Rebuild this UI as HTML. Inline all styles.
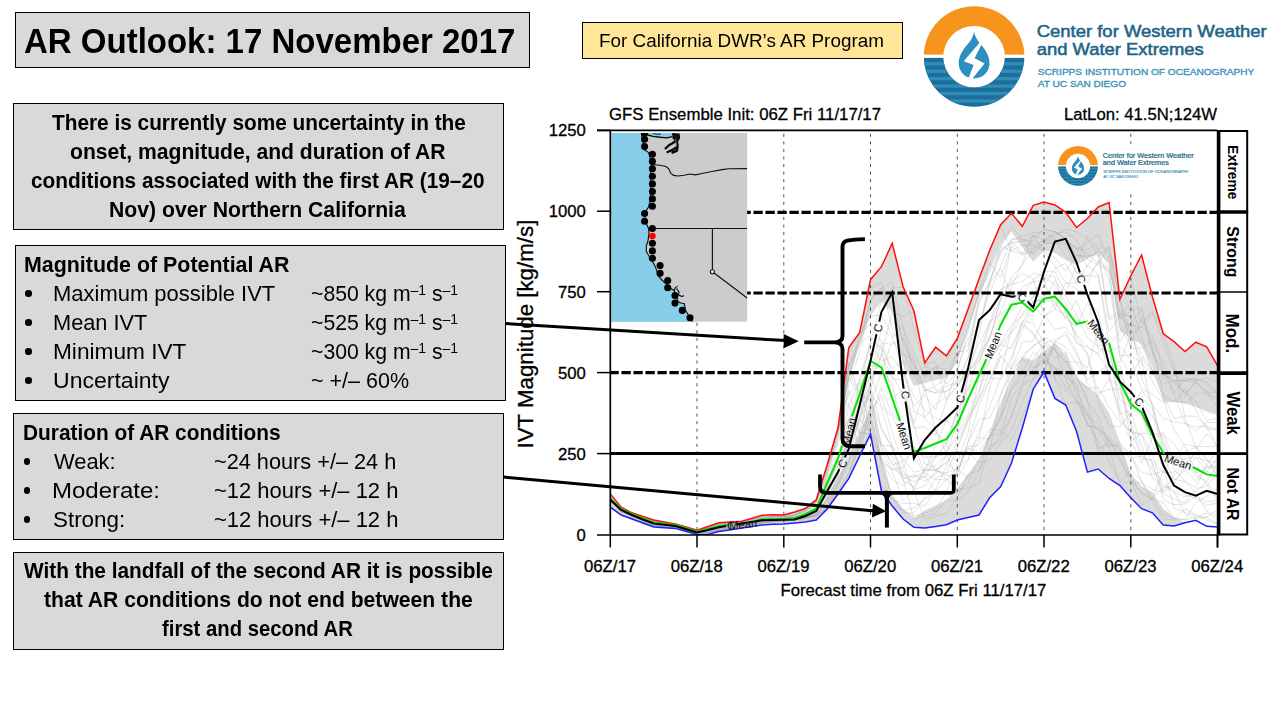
<!DOCTYPE html>
<html lang="en"><head><meta charset="utf-8"><title>AR Outlook: 17 November 2017</title>
<style>
html,body{margin:0;padding:0;background:#fff}
body{width:1280px;height:720px;position:relative;overflow:hidden;font-family:"Liberation Sans", sans-serif;color:#000}
.box{position:absolute;box-sizing:border-box;background:#d9d9d9;border:1px solid #000}
.ybox{position:absolute;box-sizing:border-box;background:#ffe699;border:1px solid #000}
.t{position:absolute;margin:0;padding:0;white-space:nowrap;display:inline-block;line-height:1;transform-origin:0 50%}
.t sup{font-size:66%;vertical-align:baseline;position:relative;top:-0.40em;line-height:0}
.b{position:absolute;width:6.6px;height:6.6px;border-radius:50%;background:#000}
</style></head><body>
<div class="box" style="left:15px;top:12px;width:515px;height:56px"><h1 class="t" style="left:8.20px;top:11.00px;font-size:34.49px;font-weight:700;transform:scaleX(0.9568)">AR Outlook: 17 November 2017</h1></div>
<div class="box" style="left:13px;top:103px;width:491px;height:127px"><span class="t" style="left:38.00px;top:7.55px;font-size:22.03px;font-weight:700;transform:scaleX(0.9450)">There is currently some uncertainty in the</span><span class="t" style="left:56.30px;top:36.55px;font-size:22.03px;font-weight:700;transform:scaleX(0.9587)">onset, magnitude, and duration of AR</span><span class="t" style="left:17.30px;top:65.55px;font-size:22.03px;font-weight:700;transform:scaleX(0.9449)">conditions associated with the first AR (19–20</span><span class="t" style="left:95.20px;top:94.55px;font-size:22.03px;font-weight:700;transform:scaleX(0.9628)">Nov) over Northern California</span></div>
<div class="box" style="left:15px;top:245px;width:491px;height:156px"><h2 class="t" style="left:8.20px;top:7.55px;font-size:22.03px;font-weight:700;transform:scaleX(0.9720)">Magnitude of Potential AR</h2><span class="t" style="left:37.40px;top:36.55px;font-size:22.03px;font-weight:400;transform:scaleX(0.9983)">Maximum possible IVT</span><span class="t" style="left:37.40px;top:65.55px;font-size:22.03px;font-weight:400;transform:scaleX(0.9891)">Mean IVT</span><span class="t" style="left:37.40px;top:94.55px;font-size:22.03px;font-weight:400;transform:scaleX(1.0289)">Minimum IVT</span><span class="t" style="left:37.40px;top:123.55px;font-size:22.03px;font-weight:400;transform:scaleX(1.0462)">Uncertainty</span><span class="t" style="left:295.30px;top:36.55px;font-size:22.03px;font-weight:400;transform:scaleX(0.9626)">~850 kg m<sup>–1</sup> s<sup>–1</sup></span><span class="t" style="left:295.30px;top:65.55px;font-size:22.03px;font-weight:400;transform:scaleX(0.9626)">~525 kg m<sup>–1</sup> s<sup>–1</sup></span><span class="t" style="left:295.30px;top:94.55px;font-size:22.03px;font-weight:400;transform:scaleX(0.9626)">~300 kg m<sup>–1</sup> s<sup>–1</sup></span><span class="t" style="left:295.30px;top:123.55px;font-size:22.03px;font-weight:400;transform:scaleX(0.9768)">~ +/– 60%</span><span class="b" style="left:8.95px;top:44.00px"></span><span class="b" style="left:8.95px;top:73.00px"></span><span class="b" style="left:8.95px;top:102.00px"></span><span class="b" style="left:8.95px;top:131.00px"></span></div>
<div class="box" style="left:13px;top:413px;width:491px;height:127px"><h2 class="t" style="left:9.20px;top:7.55px;font-size:22.03px;font-weight:700;transform:scaleX(0.9470)">Duration of AR conditions</h2><span class="t" style="left:40.00px;top:36.55px;font-size:22.03px;font-weight:400;transform:scaleX(0.9935)">Weak:</span><span class="t" style="left:38.40px;top:65.55px;font-size:22.03px;font-weight:400;transform:scaleX(1.0895)">Moderate:</span><span class="t" style="left:39.20px;top:94.55px;font-size:22.03px;font-weight:400;transform:scaleX(1.0171)">Strong:</span><span class="t" style="left:200.30px;top:36.55px;font-size:22.03px;font-weight:400;transform:scaleX(0.9862)">~24 hours +/– 24 h</span><span class="t" style="left:200.30px;top:65.55px;font-size:22.03px;font-weight:400;transform:scaleX(0.9976)">~12 hours +/– 12 h</span><span class="t" style="left:200.30px;top:94.55px;font-size:22.03px;font-weight:400;transform:scaleX(0.9976)">~12 hours +/– 12 h</span><span class="b" style="left:9.70px;top:44.00px"></span><span class="b" style="left:9.70px;top:73.00px"></span><span class="b" style="left:9.70px;top:102.00px"></span></div>
<div class="box" style="left:13px;top:552px;width:491px;height:98px"><span class="t" style="left:10.00px;top:6.55px;font-size:22.03px;font-weight:700;transform:scaleX(0.9461)">With the landfall of the second AR it is possible</span><span class="t" style="left:30.10px;top:35.55px;font-size:22.03px;font-weight:700;transform:scaleX(0.9597)">that AR conditions do not end between the</span><span class="t" style="left:148.10px;top:64.55px;font-size:22.03px;font-weight:700;transform:scaleX(0.9216)">first and second AR</span></div>
<div class="ybox" style="left:582px;top:22px;width:321px;height:37px"><span class="t" style="left:16.40px;top:8.52px;font-size:18.41px;font-weight:400;transform:scaleX(1.0253)">For California DWR’s AR Program</span></div>
<svg id="chart" width="1280" height="720" viewBox="0 0 1280 720" style="position:absolute;left:0;top:0" font-family='"Liberation Sans", sans-serif'><defs><clipPath id="plotclip"><rect x="610.3" y="130.4" width="607.2" height="404.6"/></clipPath><mask id="lmg" maskUnits="userSpaceOnUse" x="600" y="120" width="640" height="430"><rect x="600" y="120" width="640" height="430" fill="#fff"/><rect x="-15.5" y="-5.5" width="31" height="11" fill="#000" transform="translate(849,431.5) rotate(-76)"/><rect x="-15.5" y="-5.5" width="31" height="11" fill="#000" transform="translate(904,436) rotate(72)"/><rect x="-15.5" y="-5.5" width="31" height="11" fill="#000" transform="translate(993,345) rotate(-68)"/><rect x="-15.5" y="-5.5" width="31" height="11" fill="#000" transform="translate(1098.5,332) rotate(52)"/><rect x="-15.5" y="-5.5" width="31" height="11" fill="#000" transform="translate(1178,462) rotate(18)"/><rect x="-14.5" y="-5.5" width="29" height="11" fill="#000" transform="translate(743,524.5) rotate(-6)"/></mask><mask id="lmb" maskUnits="userSpaceOnUse" x="600" y="120" width="640" height="430"><rect x="600" y="120" width="640" height="430" fill="#fff"/><rect x="-6.5" y="-5.5" width="13" height="11" fill="#000" transform="translate(842.5,463.5) rotate(-62)"/><rect x="-6.5" y="-5.5" width="13" height="11" fill="#000" transform="translate(878,328) rotate(-74)"/><rect x="-6.5" y="-5.5" width="13" height="11" fill="#000" transform="translate(905.5,395) rotate(82)"/><rect x="-6.5" y="-5.5" width="13" height="11" fill="#000" transform="translate(960.5,399) rotate(-76)"/><rect x="-6.5" y="-5.5" width="13" height="11" fill="#000" transform="translate(1022,297.5) rotate(18)"/><rect x="-6.5" y="-5.5" width="13" height="11" fill="#000" transform="translate(1081,279) rotate(70)"/><rect x="-6.5" y="-5.5" width="13" height="11" fill="#000" transform="translate(1139,402) rotate(42)"/><rect x="-5.1" y="-5.5" width="10.2" height="11" fill="#000" transform="translate(731.2,525.8) rotate(-6)"/></mask></defs><g clip-path="url(#plotclip)"><polygon points="610.3,494.0 621.1,507.2 632.0,512.8 642.8,516.5 653.7,520.0 664.5,522.0 675.4,524.0 686.2,527.0 697.0,530.2 707.9,526.5 718.7,522.8 729.6,522.0 740.4,521.6 751.3,518.5 762.1,515.2 772.9,514.7 783.8,515.0 794.6,512.0 805.5,508.3 816.3,499.7 827.2,465.0 838.0,428.0 848.8,347.5 859.7,332.5 870.5,279.7 881.4,266.7 892.2,243.3 903.1,286.7 913.9,310.8 924.7,363.0 935.6,347.2 946.4,355.8 957.3,338.3 968.1,309.0 979.0,279.0 989.8,250.0 1000.6,224.7 1011.5,213.3 1022.3,226.3 1033.2,205.3 1044.0,202.0 1054.9,205.0 1065.7,212.3 1076.5,227.5 1087.4,218.5 1098.2,207.0 1109.1,202.5 1119.9,299.2 1130.8,275.8 1141.6,255.0 1152.4,296.7 1163.3,333.8 1174.1,341.6 1185.0,351.6 1195.8,342.2 1206.7,346.9 1217.5,365.6 1217.5,526.9 1206.7,526.3 1195.8,520.3 1185.0,522.8 1174.1,526.0 1163.3,525.0 1152.4,512.8 1141.6,508.7 1130.8,497.8 1119.9,485.6 1109.1,478.5 1098.2,469.0 1087.4,472.1 1076.5,431.2 1065.7,405.0 1054.9,398.4 1044.0,372.0 1033.2,389.2 1022.3,428.0 1011.5,463.0 1000.6,486.7 989.8,497.5 979.0,515.0 968.1,517.5 957.3,520.0 946.4,524.8 935.6,526.5 924.7,528.0 913.9,527.3 903.1,519.0 892.2,506.0 881.4,490.8 870.5,434.2 859.7,456.0 848.8,478.4 838.0,494.0 827.2,509.0 816.3,520.0 805.5,522.0 794.6,523.0 783.8,524.0 772.9,524.3 762.1,525.0 751.3,526.6 740.4,528.3 729.6,530.0 718.7,531.6 707.9,534.4 697.0,534.4 686.2,531.5 675.4,528.4 664.5,527.7 653.7,526.9 642.8,523.0 632.0,519.0 621.1,515.2 610.3,507.2" fill="#dbdbdb"/><polygon points="610.3,497.2 621.1,507.5 632.0,512.5 642.8,517.0 653.7,521.0 664.5,522.3 675.4,523.5 686.2,526.8 697.0,530.0 707.9,527.5 718.7,524.8 729.6,523.0 740.4,521.3 751.3,519.5 762.1,517.8 772.9,517.4 783.8,517.5 794.6,516.5 805.5,512.5 816.3,503.0 827.2,476.0 838.0,436.0 848.8,380.0 859.7,344.0 870.5,316.0 881.4,301.6 892.2,312.0 903.1,364.0 913.9,386.0 924.7,383.0 935.6,380.0 946.4,377.4 957.3,362.0 968.1,329.0 979.0,296.7 989.8,268.0 1000.6,245.0 1011.5,231.7 1022.3,247.0 1033.2,261.7 1044.0,250.8 1054.9,253.0 1065.7,260.0 1076.5,265.0 1087.4,259.0 1098.2,253.0 1109.1,263.0 1119.9,330.0 1130.8,339.0 1141.6,344.0 1152.4,366.6 1163.3,401.2 1174.1,402.0 1185.0,403.5 1195.8,407.0 1206.7,411.5 1217.5,415.3 1217.5,526.9 1206.7,526.3 1195.8,520.3 1185.0,522.8 1174.1,517.0 1163.3,509.0 1152.4,492.2 1141.6,486.0 1130.8,474.0 1119.9,442.0 1109.1,413.0 1098.2,396.0 1087.4,386.5 1076.5,378.0 1065.7,355.5 1054.9,343.0 1044.0,351.0 1033.2,360.8 1022.3,356.7 1011.5,378.0 1000.6,403.0 989.8,432.0 979.0,460.0 968.1,474.0 957.3,488.3 946.4,500.0 935.6,505.5 924.7,510.5 913.9,518.0 903.1,509.0 892.2,495.0 881.4,455.0 870.5,408.0 859.7,432.0 848.8,457.0 838.0,478.0 827.2,497.0 816.3,513.0 805.5,516.0 794.6,520.0 783.8,521.0 772.9,520.9 762.1,521.3 751.3,523.0 740.4,524.8 729.6,526.5 718.7,528.2 707.9,531.0 697.0,533.5 686.2,530.3 675.4,527.0 664.5,525.8 653.7,524.5 642.8,520.5 632.0,516.0 621.1,511.0 610.3,500.7" fill="#ffffff"/><path d="M610.3,498.6 L621.1,507.7 L632.0,513.3 L642.8,517.0 L653.7,520.5 L664.5,522.5 L675.4,524.5 L686.2,527.5 L697.0,530.8 L707.9,530.7 L718.7,527.7 L729.6,524.5 L740.4,522.6 L751.3,521.6 L762.1,519.1 L772.9,516.7 L783.8,516.8 L794.6,517.2 L805.5,515.7 L816.3,512.3 L827.2,504.1 L838.0,475.9 L848.8,436.5 L859.7,377.1 L870.5,342.7 L881.4,300.3 L892.2,287.9 L903.1,287.2 L913.9,329.1 L924.7,363.5 L935.6,390.1 L946.4,391.8 L957.3,379.6 L968.1,357.6 L979.0,322.5 L989.8,292.3 L1000.6,266.5 L1011.5,239.0 L1022.3,238.9 L1033.2,244.5 L1044.0,240.7 L1054.9,239.6 L1065.7,243.7 L1076.5,246.7 L1087.4,253.5 L1098.2,263.4 L1109.1,247.0 L1119.9,299.7 L1130.8,333.9 L1141.6,327.2 L1152.4,312.6 L1163.3,342.3 L1174.1,370.5 L1185.0,396.7 L1195.8,380.5 L1206.7,390.7 L1217.5,407.9 M610.3,501.8 L621.1,511.4 L632.0,516.4 L642.8,519.9 L653.7,523.8 L664.5,525.2 L675.4,526.4 L686.2,529.6 L697.0,533.1 L707.9,532.1 L718.7,529.6 L729.6,527.7 L740.4,526.4 L751.3,524.5 L762.1,522.3 L772.9,521.5 L783.8,520.5 L794.6,518.5 L805.5,516.7 L816.3,511.5 L827.2,494.8 L838.0,469.6 L848.8,436.3 L859.7,409.0 L870.5,395.0 L881.4,407.7 L892.2,445.8 L903.1,459.1 L913.9,472.2 L924.7,469.7 L935.6,469.7 L946.4,475.6 L957.3,474.6 L968.1,442.1 L979.0,419.6 L989.8,418.1 L1000.6,395.2 L1011.5,365.9 L1022.3,355.2 L1033.2,346.5 L1044.0,337.1 L1054.9,344.3 L1065.7,351.9 L1076.5,377.2 L1087.4,388.4 L1098.2,387.3 L1109.1,407.0 L1119.9,421.7 L1130.8,431.5 L1141.6,433.9 L1152.4,453.7 L1163.3,491.7 L1174.1,474.9 L1185.0,467.5 L1195.8,450.0 L1206.7,433.9 L1217.5,446.7 M610.3,506.7 L621.1,514.8 L632.0,518.5 L642.8,522.5 L653.7,526.4 L664.5,527.2 L675.4,527.9 L686.2,531.0 L697.0,530.8 L707.9,528.1 L718.7,526.4 L729.6,524.7 L740.4,523.0 L751.3,522.5 L762.1,522.4 L772.9,521.4 L783.8,518.6 L794.6,515.3 L805.5,508.8 L816.3,500.2 L827.2,465.5 L838.0,441.9 L848.8,418.6 L859.7,432.8 L870.5,433.7 L881.4,461.5 L892.2,479.4 L903.1,485.5 L913.9,475.9 L924.7,481.2 L935.6,474.5 L946.4,454.8 L957.3,477.6 L968.1,460.0 L979.0,431.3 L989.8,406.3 L1000.6,378.5 L1011.5,361.8 L1022.3,321.2 L1033.2,323.3 L1044.0,342.9 L1054.9,349.7 L1065.7,362.3 L1076.5,375.8 L1087.4,399.8 L1098.2,448.3 L1109.1,444.5 L1119.9,446.3 L1130.8,454.0 L1141.6,481.6 L1152.4,498.3 L1163.3,471.0 L1174.1,480.3 L1185.0,469.9 L1195.8,481.6 L1206.7,466.3 L1217.5,468.1 M610.3,499.7 L621.1,507.7 L632.0,513.3 L642.8,517.0 L653.7,520.5 L664.5,522.5 L675.4,524.5 L686.2,527.5 L697.0,530.8 L707.9,528.1 L718.7,531.1 L729.6,529.5 L740.4,526.8 L751.3,525.0 L762.1,523.7 L772.9,520.3 L783.8,518.2 L794.6,517.7 L805.5,517.8 L816.3,516.5 L827.2,508.5 L838.0,493.5 L848.8,472.7 L859.7,438.6 L870.5,381.6 L881.4,355.2 L892.2,311.6 L903.1,316.8 L913.9,311.3 L924.7,363.5 L935.6,361.7 L946.4,400.7 L957.3,386.4 L968.1,370.9 L979.0,359.1 L989.8,335.9 L1000.6,311.5 L1011.5,287.0 L1022.3,263.3 L1033.2,235.3 L1044.0,239.8 L1054.9,236.3 L1065.7,229.1 L1076.5,231.8 L1087.4,239.0 L1098.2,255.8 L1109.1,247.1 L1119.9,299.7 L1130.8,276.3 L1141.6,323.7 L1152.4,311.0 L1163.3,334.2 L1174.1,364.9 L1185.0,417.7 L1195.8,447.4 L1206.7,458.4 L1217.5,476.6 M610.3,496.9 L621.1,508.6 L632.0,513.4 L642.8,517.4 L653.7,521.0 L664.5,522.7 L675.4,524.5 L686.2,527.5 L697.0,530.8 L707.9,527.4 L718.7,524.5 L729.6,523.0 L740.4,522.3 L751.3,519.7 L762.1,516.7 L772.9,516.2 L783.8,516.9 L794.6,515.0 L805.5,511.4 L816.3,503.1 L827.2,474.8 L838.0,436.8 L848.8,365.8 L859.7,342.5 L870.5,300.3 L881.4,287.9 L892.2,282.1 L903.1,329.1 L913.9,353.2 L924.7,375.9 L935.6,366.6 L946.4,369.5 L957.3,353.2 L968.1,345.0 L979.0,298.0 L989.8,268.5 L1000.6,246.8 L1011.5,226.5 L1022.3,239.8 L1033.2,241.4 L1044.0,229.1 L1054.9,231.8 L1065.7,239.0 L1076.5,249.4 L1087.4,242.6 L1098.2,234.1 L1109.1,260.1 L1119.9,327.5 L1130.8,345.7 L1141.6,317.1 L1152.4,345.9 L1163.3,394.3 L1174.1,418.8 L1185.0,415.8 L1195.8,416.6 L1206.7,425.9 L1217.5,430.1 M610.3,498.3 L621.1,507.7 L632.0,513.3 L642.8,517.0 L653.7,520.5 L664.5,524.1 L675.4,525.1 L686.2,527.5 L697.0,530.8 L707.9,532.8 L718.7,531.1 L729.6,528.5 L740.4,526.7 L751.3,525.4 L762.1,523.3 L772.9,521.3 L783.8,520.4 L794.6,520.0 L805.5,517.0 L816.3,513.1 L827.2,506.7 L838.0,481.3 L848.8,451.4 L859.7,396.3 L870.5,376.8 L881.4,328.8 L892.2,337.3 L903.1,325.3 L913.9,377.0 L924.7,386.7 L935.6,432.0 L946.4,444.5 L957.3,459.9 L968.1,451.9 L979.0,462.6 L989.8,460.4 L1000.6,443.0 L1011.5,430.9 L1022.3,402.1 L1033.2,378.7 L1044.0,343.0 L1054.9,339.8 L1065.7,335.0 L1076.5,354.4 L1087.4,372.2 L1098.2,373.5 L1109.1,369.0 L1119.9,364.8 L1130.8,407.4 L1141.6,414.1 L1152.4,443.9 L1163.3,467.4 L1174.1,508.1 L1185.0,512.3 L1195.8,515.8 L1206.7,517.4 L1217.5,523.4 M610.3,501.5 L621.1,511.8 L632.0,516.1 L642.8,520.4 L653.7,523.4 L664.5,524.5 L675.4,525.7 L686.2,529.1 L697.0,532.0 L707.9,529.7 L718.7,526.9 L729.6,525.6 L740.4,524.5 L751.3,522.5 L762.1,520.4 L772.9,520.2 L783.8,520.3 L794.6,518.5 L805.5,515.0 L816.3,509.5 L827.2,487.6 L838.0,461.1 L848.8,419.8 L859.7,396.7 L870.5,364.7 L881.4,368.7 L892.2,384.5 L903.1,430.8 L913.9,451.4 L924.7,457.4 L935.6,456.7 L946.4,445.1 L957.3,411.1 L968.1,389.8 L979.0,353.9 L989.8,338.4 L1000.6,298.9 L1011.5,243.8 L1022.3,241.3 L1033.2,254.5 L1044.0,242.5 L1054.9,231.8 L1065.7,239.0 L1076.5,255.6 L1087.4,257.1 L1098.2,252.2 L1109.1,279.8 L1119.9,355.5 L1130.8,356.0 L1141.6,362.2 L1152.4,407.0 L1163.3,444.3 L1174.1,460.2 L1185.0,451.5 L1195.8,447.2 L1206.7,460.6 L1217.5,462.9 M610.3,506.7 L621.1,514.6 L632.0,518.5 L642.8,522.1 L653.7,524.5 L664.5,525.7 L675.4,527.9 L686.2,531.0 L697.0,530.8 L707.9,527.1 L718.7,526.0 L729.6,524.8 L740.4,523.0 L751.3,520.9 L762.1,520.0 L772.9,520.1 L783.8,518.5 L794.6,515.5 L805.5,509.8 L816.3,500.2 L827.2,465.5 L838.0,428.5 L848.8,393.7 L859.7,382.5 L870.5,431.9 L881.4,457.9 L892.2,471.4 L903.1,501.2 L913.9,489.3 L924.7,468.8 L935.6,456.6 L946.4,442.8 L957.3,410.1 L968.1,386.3 L979.0,381.4 L989.8,377.8 L1000.6,379.2 L1011.5,356.8 L1022.3,330.3 L1033.2,304.6 L1044.0,318.1 L1054.9,303.1 L1065.7,318.9 L1076.5,326.5 L1087.4,303.5 L1098.2,311.2 L1109.1,367.7 L1119.9,361.6 L1130.8,335.2 L1141.6,354.7 L1152.4,370.5 L1163.3,374.8 L1174.1,380.5 L1185.0,392.5 L1195.8,401.4 L1206.7,420.7 L1217.5,418.2 M610.3,498.9 L621.1,507.7 L632.0,513.3 L642.8,517.0 L653.7,520.5 L664.5,522.5 L675.4,524.5 L686.2,527.5 L697.0,530.8 L707.9,527.4 L718.7,531.0 L729.6,528.6 L740.4,525.5 L751.3,524.3 L762.1,523.0 L772.9,521.4 L783.8,519.5 L794.6,519.8 L805.5,520.3 L816.3,518.9 L827.2,508.5 L838.0,493.5 L848.8,477.9 L859.7,455.5 L870.5,404.1 L881.4,371.7 L892.2,341.4 L903.1,354.6 L913.9,360.1 L924.7,418.5 L935.6,428.7 L946.4,453.8 L957.3,451.9 L968.1,451.3 L979.0,437.6 L989.8,439.0 L1000.6,415.5 L1011.5,368.9 L1022.3,342.2 L1033.2,341.0 L1044.0,317.1 L1054.9,309.2 L1065.7,314.5 L1076.5,336.6 L1087.4,354.9 L1098.2,401.5 L1109.1,425.5 L1119.9,427.3 L1130.8,411.7 L1141.6,445.2 L1152.4,478.0 L1163.3,485.4 L1174.1,491.2 L1185.0,514.0 L1195.8,518.5 L1206.7,517.3 L1217.5,509.6 M610.3,499.7 L621.1,510.8 L632.0,516.0 L642.8,519.4 L653.7,523.2 L664.5,524.5 L675.4,525.6 L686.2,529.0 L697.0,532.0 L707.9,529.8 L718.7,526.7 L729.6,524.8 L740.4,523.5 L751.3,521.3 L762.1,519.4 L772.9,518.6 L783.8,519.1 L794.6,517.5 L805.5,514.3 L816.3,508.2 L827.2,480.5 L838.0,455.3 L848.8,420.8 L859.7,392.4 L870.5,341.6 L881.4,347.7 L892.2,368.3 L903.1,361.5 L913.9,411.7 L924.7,417.3 L935.6,404.0 L946.4,397.4 L957.3,386.7 L968.1,366.8 L979.0,344.0 L989.8,323.2 L1000.6,289.3 L1011.5,284.2 L1022.3,281.7 L1033.2,273.1 L1044.0,276.3 L1054.9,285.1 L1065.7,303.0 L1076.5,343.4 L1087.4,347.6 L1098.2,353.8 L1109.1,342.1 L1119.9,414.0 L1130.8,409.8 L1141.6,390.5 L1152.4,404.0 L1163.3,448.1 L1174.1,458.1 L1185.0,443.9 L1195.8,446.7 L1206.7,446.5 L1217.5,446.2 M610.3,506.7 L621.1,514.8 L632.0,518.5 L642.8,522.5 L653.7,525.0 L664.5,527.2 L675.4,527.9 L686.2,528.2 L697.0,530.8 L707.9,527.0 L718.7,523.2 L729.6,522.5 L740.4,522.1 L751.3,519.0 L762.1,518.8 L772.9,516.8 L783.8,515.5 L794.6,512.5 L805.5,508.8 L816.3,500.2 L827.2,465.5 L838.0,428.5 L848.8,390.4 L859.7,432.8 L870.5,433.7 L881.4,488.4 L892.2,498.1 L903.1,512.9 L913.9,513.0 L924.7,497.6 L935.6,478.4 L946.4,473.3 L957.3,447.7 L968.1,421.5 L979.0,397.8 L989.8,380.6 L1000.6,355.7 L1011.5,369.1 L1022.3,358.8 L1033.2,367.9 L1044.0,362.6 L1054.9,368.0 L1065.7,387.6 L1076.5,400.0 L1087.4,411.7 L1098.2,451.3 L1109.1,439.6 L1119.9,458.3 L1130.8,483.9 L1141.6,482.2 L1152.4,489.5 L1163.3,492.1 L1174.1,483.7 L1185.0,466.6 L1195.8,458.1 L1206.7,460.4 L1217.5,470.6 M610.3,506.7 L621.1,514.8 L632.0,518.5 L642.8,522.5 L653.7,526.4 L664.5,527.2 L675.4,527.9 L686.2,531.0 L697.0,530.8 L707.9,527.0 L718.7,524.3 L729.6,522.5 L740.4,522.1 L751.3,519.1 L762.1,519.1 L772.9,517.7 L783.8,515.5 L794.6,512.5 L805.5,508.8 L816.3,500.2 L827.2,465.5 L838.0,428.5 L848.8,370.9 L859.7,393.8 L870.5,399.4 L881.4,444.0 L892.2,464.8 L903.1,461.3 L913.9,450.0 L924.7,451.7 L935.6,455.4 L946.4,451.0 L957.3,437.8 L968.1,375.8 L979.0,363.8 L989.8,325.1 L1000.6,298.2 L1011.5,281.8 L1022.3,273.6 L1033.2,279.1 L1044.0,314.5 L1054.9,329.5 L1065.7,327.2 L1076.5,341.7 L1087.4,352.8 L1098.2,393.3 L1109.1,389.2 L1119.9,389.1 L1130.8,428.0 L1141.6,459.0 L1152.4,459.8 L1163.3,472.6 L1174.1,472.0 L1185.0,462.9 L1195.8,475.5 L1206.7,481.4 L1217.5,498.7 M610.3,506.7 L621.1,514.8 L632.0,518.5 L642.8,522.5 L653.7,526.4 L664.5,527.2 L675.4,527.9 L686.2,531.0 L697.0,530.8 L707.9,528.1 L718.7,525.8 L729.6,523.4 L740.4,522.1 L751.3,520.0 L762.1,520.6 L772.9,519.6 L783.8,516.9 L794.6,512.7 L805.5,508.8 L816.3,500.2 L827.2,465.5 L838.0,428.5 L848.8,402.9 L859.7,455.5 L870.5,433.7 L881.4,485.4 L892.2,500.3 L903.1,503.4 L913.9,503.2 L924.7,506.3 L935.6,489.6 L946.4,465.9 L957.3,441.1 L968.1,419.6 L979.0,394.1 L989.8,344.6 L1000.6,345.3 L1011.5,331.1 L1022.3,322.8 L1033.2,332.8 L1044.0,351.6 L1054.9,379.1 L1065.7,404.5 L1076.5,401.6 L1087.4,414.2 L1098.2,430.7 L1109.1,447.7 L1119.9,442.4 L1130.8,456.8 L1141.6,472.5 L1152.4,474.9 L1163.3,470.6 L1174.1,456.5 L1185.0,458.8 L1195.8,456.9 L1206.7,471.9 L1217.5,457.6 M610.3,506.7 L621.1,514.4 L632.0,518.5 L642.8,522.5 L653.7,524.8 L664.5,526.0 L675.4,527.9 L686.2,531.0 L697.0,531.1 L707.9,528.0 L718.7,527.6 L729.6,525.7 L740.4,523.6 L751.3,521.7 L762.1,520.8 L772.9,520.7 L783.8,519.5 L794.6,516.7 L805.5,509.9 L816.3,500.2 L827.2,465.5 L838.0,428.5 L848.8,377.5 L859.7,333.0 L870.5,324.7 L881.4,341.4 L892.2,375.3 L903.1,394.5 L913.9,423.3 L924.7,389.8 L935.6,392.7 L946.4,386.2 L957.3,382.2 L968.1,357.2 L979.0,301.8 L989.8,281.7 L1000.6,246.5 L1011.5,250.7 L1022.3,254.5 L1033.2,235.0 L1044.0,252.2 L1054.9,266.1 L1065.7,282.9 L1076.5,283.0 L1087.4,265.6 L1098.2,274.0 L1109.1,344.7 L1119.9,332.2 L1130.8,322.7 L1141.6,378.0 L1152.4,405.2 L1163.3,418.3 L1174.1,422.0 L1185.0,423.5 L1195.8,431.1 L1206.7,422.5 L1217.5,422.6 M610.3,499.9 L621.1,510.7 L632.0,515.7 L642.8,519.7 L653.7,522.9 L664.5,524.1 L675.4,525.5 L686.2,528.1 L697.0,531.2 L707.9,529.0 L718.7,525.9 L729.6,524.8 L740.4,523.5 L751.3,521.8 L762.1,519.8 L772.9,519.6 L783.8,519.5 L794.6,519.2 L805.5,516.3 L816.3,512.2 L827.2,493.7 L838.0,473.6 L848.8,432.6 L859.7,406.4 L870.5,385.6 L881.4,427.9 L892.2,448.9 L903.1,470.7 L913.9,489.6 L924.7,486.2 L935.6,471.1 L946.4,472.8 L957.3,468.3 L968.1,447.9 L979.0,452.7 L989.8,435.4 L1000.6,419.8 L1011.5,388.3 L1022.3,379.5 L1033.2,369.1 L1044.0,358.8 L1054.9,367.9 L1065.7,377.4 L1076.5,384.1 L1087.4,425.0 L1098.2,428.4 L1109.1,437.8 L1119.9,448.2 L1130.8,479.1 L1141.6,492.9 L1152.4,499.1 L1163.3,514.0 L1174.1,518.5 L1185.0,519.8 L1195.8,517.4 L1206.7,512.9 L1217.5,518.9 M610.3,498.4 L621.1,509.4 L632.0,514.4 L642.8,518.1 L653.7,522.0 L664.5,522.9 L675.4,524.7 L686.2,527.8 L697.0,530.8 L707.9,527.4 L718.7,524.1 L729.6,522.6 L740.4,522.1 L751.3,520.0 L762.1,517.6 L772.9,516.9 L783.8,517.2 L794.6,515.3 L805.5,510.6 L816.3,501.7 L827.2,471.4 L838.0,434.2 L848.8,365.8 L859.7,340.4 L870.5,300.3 L881.4,287.9 L892.2,304.5 L903.1,340.5 L913.9,365.5 L924.7,391.0 L935.6,385.6 L946.4,378.4 L957.3,357.5 L968.1,328.4 L979.0,291.8 L989.8,271.2 L1000.6,250.1 L1011.5,242.1 L1022.3,241.0 L1033.2,236.3 L1044.0,229.1 L1054.9,231.8 L1065.7,239.0 L1076.5,249.4 L1087.4,249.5 L1098.2,244.1 L1109.1,252.8 L1119.9,317.6 L1130.8,325.9 L1141.6,327.0 L1152.4,335.1 L1163.3,370.5 L1174.1,395.1 L1185.0,423.3 L1195.8,427.0 L1206.7,426.2 L1217.5,446.9 M610.3,501.3 L621.1,507.7 L632.0,513.3 L642.8,517.0 L653.7,520.5 L664.5,523.4 L675.4,524.5 L686.2,527.5 L697.0,530.8 L707.9,532.1 L718.7,530.0 L729.6,527.4 L740.4,525.5 L751.3,524.1 L762.1,522.2 L772.9,520.5 L783.8,519.8 L794.6,518.8 L805.5,517.9 L816.3,514.9 L827.2,508.5 L838.0,487.0 L848.8,460.5 L859.7,415.3 L870.5,382.6 L881.4,342.7 L892.2,344.4 L903.1,338.5 L913.9,360.5 L924.7,389.2 L935.6,392.9 L946.4,391.8 L957.3,382.5 L968.1,371.0 L979.0,361.2 L989.8,338.5 L1000.6,300.0 L1011.5,277.4 L1022.3,264.8 L1033.2,249.7 L1044.0,238.9 L1054.9,233.2 L1065.7,231.8 L1076.5,239.9 L1087.4,259.1 L1098.2,265.1 L1109.1,271.8 L1119.9,299.7 L1130.8,348.8 L1141.6,348.0 L1152.4,340.5 L1163.3,363.0 L1174.1,393.0 L1185.0,377.9 L1195.8,380.5 L1206.7,377.5 L1217.5,382.1 M610.3,502.4 L621.1,507.7 L632.0,513.3 L642.8,517.0 L653.7,520.5 L664.5,524.2 L675.4,525.6 L686.2,527.5 L697.0,530.8 L707.9,533.2 L718.7,530.8 L729.6,527.6 L740.4,525.5 L751.3,524.2 L762.1,522.9 L772.9,520.7 L783.8,520.0 L794.6,519.7 L805.5,518.9 L816.3,516.5 L827.2,508.5 L838.0,492.0 L848.8,477.9 L859.7,442.3 L870.5,419.5 L881.4,387.5 L892.2,414.5 L903.1,423.8 L913.9,455.8 L924.7,453.6 L935.6,470.2 L946.4,463.1 L957.3,471.4 L968.1,446.2 L979.0,445.7 L989.8,428.6 L1000.6,430.4 L1011.5,439.4 L1022.3,416.5 L1033.2,388.7 L1044.0,369.7 L1054.9,341.1 L1065.7,347.1 L1076.5,362.8 L1087.4,380.0 L1098.2,372.2 L1109.1,365.1 L1119.9,373.7 L1130.8,402.6 L1141.6,403.6 L1152.4,416.1 L1163.3,439.3 L1174.1,469.7 L1185.0,481.2 L1195.8,487.5 L1206.7,464.4 L1217.5,451.4 M610.3,506.7 L621.1,514.8 L632.0,518.5 L642.8,522.5 L653.7,525.8 L664.5,527.2 L675.4,527.9 L686.2,529.7 L697.0,530.8 L707.9,527.0 L718.7,524.2 L729.6,522.5 L740.4,522.1 L751.3,519.9 L762.1,520.0 L772.9,519.4 L783.8,516.6 L794.6,512.5 L805.5,508.8 L816.3,500.2 L827.2,465.5 L838.0,428.5 L848.8,377.6 L859.7,396.9 L870.5,417.4 L881.4,462.6 L892.2,468.2 L903.1,474.5 L913.9,477.3 L924.7,472.2 L935.6,464.7 L946.4,455.3 L957.3,422.2 L968.1,373.6 L979.0,355.0 L989.8,321.1 L1000.6,314.0 L1011.5,305.4 L1022.3,287.1 L1033.2,281.8 L1044.0,280.7 L1054.9,309.0 L1065.7,282.7 L1076.5,289.1 L1087.4,293.7 L1098.2,348.9 L1109.1,351.7 L1119.9,346.1 L1130.8,359.0 L1141.6,389.2 L1152.4,393.8 L1163.3,402.7 L1174.1,400.2 L1185.0,403.3 L1195.8,393.2 L1206.7,393.2 L1217.5,397.5 M610.3,506.7 L621.1,514.8 L632.0,518.5 L642.8,522.5 L653.7,525.3 L664.5,527.2 L675.4,527.9 L686.2,530.6 L697.0,530.8 L707.9,527.0 L718.7,524.3 L729.6,522.5 L740.4,522.1 L751.3,519.8 L762.1,519.8 L772.9,518.2 L783.8,515.5 L794.6,512.5 L805.5,508.8 L816.3,500.2 L827.2,465.5 L838.0,428.5 L848.8,362.8 L859.7,394.0 L870.5,402.8 L881.4,450.3 L892.2,469.8 L903.1,467.7 L913.9,446.6 L924.7,471.4 L935.6,445.5 L946.4,419.8 L957.3,434.7 L968.1,415.5 L979.0,390.5 L989.8,360.2 L1000.6,344.6 L1011.5,348.4 L1022.3,325.2 L1033.2,334.4 L1044.0,349.4 L1054.9,377.4 L1065.7,391.8 L1076.5,376.9 L1087.4,401.2 L1098.2,416.7 L1109.1,447.6 L1119.9,485.1 L1130.8,480.6 L1141.6,505.4 L1152.4,498.2 L1163.3,487.0 L1174.1,486.7 L1185.0,495.0 L1195.8,497.9 L1206.7,505.1 L1217.5,503.1 M610.3,501.4 L621.1,511.7 L632.0,516.1 L642.8,520.2 L653.7,524.3 L664.5,525.5 L675.4,526.5 L686.2,529.6 L697.0,533.1 L707.9,531.4 L718.7,528.8 L729.6,527.2 L740.4,525.6 L751.3,523.6 L762.1,521.9 L772.9,521.4 L783.8,521.9 L794.6,520.1 L805.5,517.8 L816.3,516.2 L827.2,498.8 L838.0,477.8 L848.8,461.5 L859.7,428.5 L870.5,400.9 L881.4,428.4 L892.2,448.2 L903.1,479.2 L913.9,519.2 L924.7,516.3 L935.6,513.0 L946.4,499.8 L957.3,501.1 L968.1,492.2 L979.0,472.0 L989.8,435.8 L1000.6,434.1 L1011.5,416.5 L1022.3,383.3 L1033.2,359.7 L1044.0,342.9 L1054.9,358.2 L1065.7,352.8 L1076.5,396.5 L1087.4,425.5 L1098.2,428.4 L1109.1,441.5 L1119.9,450.6 L1130.8,457.9 L1141.6,456.2 L1152.4,462.0 L1163.3,499.6 L1174.1,504.8 L1185.0,503.9 L1195.8,496.4 L1206.7,501.6 L1217.5,500.8 M610.3,500.2 L621.1,507.7 L632.0,513.3 L642.8,517.0 L653.7,520.5 L664.5,522.5 L675.4,524.5 L686.2,527.5 L697.0,530.8 L707.9,532.8 L718.7,531.1 L729.6,529.0 L740.4,526.4 L751.3,524.1 L762.1,521.4 L772.9,518.6 L783.8,518.1 L794.6,518.6 L805.5,517.9 L816.3,515.1 L827.2,508.5 L838.0,490.5 L848.8,473.6 L859.7,444.7 L870.5,411.5 L881.4,395.0 L892.2,432.0 L903.1,463.9 L913.9,490.7 L924.7,519.2 L935.6,516.3 L946.4,513.0 L957.3,498.1 L968.1,474.4 L979.0,470.6 L989.8,450.2 L1000.6,435.8 L1011.5,397.5 L1022.3,384.0 L1033.2,379.4 L1044.0,371.5 L1054.9,342.2 L1065.7,331.8 L1076.5,350.8 L1087.4,383.7 L1098.2,396.9 L1109.1,378.8 L1119.9,409.9 L1130.8,441.8 L1141.6,432.9 L1152.4,434.5 L1163.3,432.8 L1174.1,460.4 L1185.0,459.2 L1195.8,473.2 L1206.7,467.5 L1217.5,465.1 M610.3,496.9 L621.1,508.5 L632.0,513.6 L642.8,518.0 L653.7,521.6 L664.5,523.6 L675.4,525.1 L686.2,528.1 L697.0,531.4 L707.9,529.2 L718.7,525.9 L729.6,525.0 L740.4,523.8 L751.3,522.0 L762.1,520.5 L772.9,521.2 L783.8,521.1 L794.6,519.7 L805.5,517.1 L816.3,513.0 L827.2,490.4 L838.0,472.7 L848.8,445.7 L859.7,409.2 L870.5,375.0 L881.4,406.0 L892.2,416.4 L903.1,437.6 L913.9,455.6 L924.7,473.5 L935.6,479.6 L946.4,479.9 L957.3,474.3 L968.1,441.8 L979.0,405.4 L989.8,380.0 L1000.6,349.9 L1011.5,332.9 L1022.3,314.0 L1033.2,297.2 L1044.0,286.0 L1054.9,268.3 L1065.7,263.4 L1076.5,282.8 L1087.4,282.6 L1098.2,260.7 L1109.1,268.5 L1119.9,357.4 L1130.8,375.4 L1141.6,357.4 L1152.4,373.9 L1163.3,383.6 L1174.1,381.0 L1185.0,380.5 L1195.8,377.5 L1206.7,384.9 L1217.5,393.2 M610.3,506.7 L621.1,514.6 L632.0,518.2 L642.8,522.0 L653.7,523.9 L664.5,524.8 L675.4,527.9 L686.2,530.9 L697.0,530.8 L707.9,527.0 L718.7,524.2 L729.6,522.5 L740.4,522.1 L751.3,519.0 L762.1,516.7 L772.9,517.0 L783.8,515.5 L794.6,512.5 L805.5,508.8 L816.3,500.2 L827.2,465.5 L838.0,428.5 L848.8,348.0 L859.7,333.0 L870.5,287.9 L881.4,282.1 L892.2,329.1 L903.1,351.9 L913.9,375.9 L924.7,366.6 L935.6,369.5 L946.4,360.7 L957.3,338.8 L968.1,309.5 L979.0,279.5 L989.8,250.5 L1000.6,226.5 L1011.5,250.7 L1022.3,245.3 L1033.2,245.2 L1044.0,251.7 L1054.9,257.8 L1065.7,271.2 L1076.5,255.8 L1087.4,255.9 L1098.2,255.2 L1109.1,320.4 L1119.9,313.5 L1130.8,316.8 L1141.6,344.9 L1152.4,370.5 L1163.3,374.8 L1174.1,380.5 L1185.0,381.0 L1195.8,382.1 L1206.7,394.5 L1217.5,399.7 M610.3,500.6 L621.1,510.9 L632.0,515.8 L642.8,520.9 L653.7,524.5 L664.5,526.1 L675.4,527.4 L686.2,530.1 L697.0,532.9 L707.9,531.2 L718.7,528.1 L729.6,526.5 L740.4,525.2 L751.3,522.9 L762.1,521.2 L772.9,520.3 L783.8,520.1 L794.6,519.0 L805.5,515.7 L816.3,510.9 L827.2,495.0 L838.0,472.8 L848.8,441.1 L859.7,422.8 L870.5,393.0 L881.4,445.2 L892.2,446.3 L903.1,476.9 L913.9,481.7 L924.7,476.1 L935.6,491.3 L946.4,479.4 L957.3,489.6 L968.1,487.8 L979.0,483.5 L989.8,445.6 L1000.6,440.6 L1011.5,416.5 L1022.3,387.9 L1033.2,369.6 L1044.0,358.8 L1054.9,367.9 L1065.7,372.8 L1076.5,389.0 L1087.4,416.8 L1098.2,424.3 L1109.1,439.9 L1119.9,460.8 L1130.8,477.9 L1141.6,493.4 L1152.4,499.1 L1163.3,502.8 L1174.1,518.5 L1185.0,519.8 L1195.8,502.6 L1206.7,496.3 L1217.5,488.4 M610.3,500.3 L621.1,510.8 L632.0,516.1 L642.8,519.7 L653.7,523.4 L664.5,524.1 L675.4,525.6 L686.2,528.6 L697.0,531.7 L707.9,529.3 L718.7,526.5 L729.6,524.9 L740.4,523.6 L751.3,521.2 L762.1,519.1 L772.9,518.0 L783.8,518.2 L794.6,515.4 L805.5,511.5 L816.3,505.4 L827.2,479.5 L838.0,441.8 L848.8,384.7 L859.7,351.8 L870.5,300.3 L881.4,287.9 L892.2,294.4 L903.1,345.0 L913.9,365.3 L924.7,377.0 L935.6,366.6 L946.4,384.3 L957.3,371.6 L968.1,331.1 L979.0,291.8 L989.8,263.1 L1000.6,278.0 L1011.5,246.2 L1022.3,254.4 L1033.2,251.8 L1044.0,242.3 L1054.9,242.7 L1065.7,239.0 L1076.5,249.4 L1087.4,266.7 L1098.2,248.2 L1109.1,265.4 L1119.9,318.5 L1130.8,311.0 L1141.6,307.3 L1152.4,351.7 L1163.3,372.5 L1174.1,383.4 L1185.0,393.0 L1195.8,382.1 L1206.7,392.0 L1217.5,393.2 M610.3,500.2 L621.1,510.2 L632.0,515.2 L642.8,519.8 L653.7,523.9 L664.5,525.3 L675.4,526.4 L686.2,529.4 L697.0,532.7 L707.9,530.8 L718.7,528.3 L729.6,526.7 L740.4,524.8 L751.3,522.7 L762.1,520.3 L772.9,519.5 L783.8,519.7 L794.6,518.4 L805.5,515.6 L816.3,509.3 L827.2,487.7 L838.0,459.1 L848.8,406.2 L859.7,381.4 L870.5,344.5 L881.4,361.1 L892.2,356.7 L903.1,373.1 L913.9,396.4 L924.7,410.1 L935.6,417.9 L946.4,422.4 L957.3,404.0 L968.1,375.1 L979.0,335.6 L989.8,281.5 L1000.6,251.4 L1011.5,241.4 L1022.3,253.2 L1033.2,247.8 L1044.0,243.9 L1054.9,243.2 L1065.7,244.4 L1076.5,272.7 L1087.4,276.5 L1098.2,262.8 L1109.1,270.4 L1119.9,341.4 L1130.8,323.4 L1141.6,309.4 L1152.4,353.1 L1163.3,379.5 L1174.1,374.8 L1185.0,380.5 L1195.8,379.2 L1206.7,382.1 L1217.5,393.2 M610.3,506.7 L621.1,512.7 L632.0,516.9 L642.8,520.6 L653.7,522.2 L664.5,523.9 L675.4,527.0 L686.2,530.5 L697.0,530.8 L707.9,527.0 L718.7,523.4 L729.6,522.5 L740.4,522.1 L751.3,519.0 L762.1,516.2 L772.9,516.6 L783.8,515.5 L794.6,512.5 L805.5,508.8 L816.3,500.2 L827.2,465.5 L838.0,428.5 L848.8,353.1 L859.7,333.0 L870.5,316.3 L881.4,315.1 L892.2,335.3 L903.1,371.1 L913.9,406.7 L924.7,394.8 L935.6,409.9 L946.4,378.7 L957.3,352.0 L968.1,350.6 L979.0,301.9 L989.8,282.5 L1000.6,268.6 L1011.5,295.4 L1022.3,295.1 L1033.2,279.7 L1044.0,271.3 L1054.9,272.0 L1065.7,292.3 L1076.5,265.1 L1087.4,235.5 L1098.2,249.7 L1109.1,317.6 L1119.9,311.0 L1130.8,336.5 L1141.6,361.6 L1152.4,381.2 L1163.3,400.2 L1174.1,429.6 L1185.0,447.0 L1195.8,470.6 L1206.7,484.7 L1217.5,500.5 M610.3,506.7 L621.1,514.8 L632.0,518.5 L642.8,522.5 L653.7,525.2 L664.5,526.7 L675.4,527.9 L686.2,531.0 L697.0,530.8 L707.9,527.5 L718.7,526.8 L729.6,525.2 L740.4,522.9 L751.3,520.7 L762.1,519.3 L772.9,519.8 L783.8,517.7 L794.6,515.2 L805.5,508.8 L816.3,500.2 L827.2,465.5 L838.0,428.5 L848.8,376.5 L859.7,342.5 L870.5,335.9 L881.4,349.2 L892.2,397.8 L903.1,390.3 L913.9,428.2 L924.7,426.8 L935.6,435.4 L946.4,401.4 L957.3,368.2 L968.1,338.2 L979.0,327.5 L989.8,281.8 L1000.6,253.7 L1011.5,239.8 L1022.3,236.3 L1033.2,232.6 L1044.0,231.8 L1054.9,239.0 L1065.7,255.5 L1076.5,272.5 L1087.4,276.0 L1098.2,276.2 L1109.1,331.9 L1119.9,315.5 L1130.8,303.5 L1141.6,337.0 L1152.4,371.6 L1163.3,394.6 L1174.1,402.8 L1185.0,388.2 L1195.8,410.0 L1206.7,428.7 L1217.5,429.8 M610.3,499.8 L621.1,510.6 L632.0,515.1 L642.8,518.8 L653.7,522.7 L664.5,524.2 L675.4,525.7 L686.2,529.1 L697.0,532.6 L707.9,530.3 L718.7,527.8 L729.6,525.8 L740.4,524.7 L751.3,522.7 L762.1,520.9 L772.9,520.9 L783.8,520.8 L794.6,520.2 L805.5,518.0 L816.3,514.9 L827.2,498.2 L838.0,475.0 L848.8,442.4 L859.7,416.6 L870.5,388.9 L881.4,465.9 L892.2,496.0 L903.1,510.2 L913.9,507.9 L924.7,499.1 L935.6,491.3 L946.4,490.9 L957.3,469.5 L968.1,477.3 L979.0,458.3 L989.8,451.3 L1000.6,394.3 L1011.5,372.7 L1022.3,358.0 L1033.2,345.8 L1044.0,339.8 L1054.9,350.9 L1065.7,361.8 L1076.5,361.9 L1087.4,367.7 L1098.2,331.5 L1109.1,349.5 L1119.9,399.8 L1130.8,406.8 L1141.6,397.4 L1152.4,408.8 L1163.3,455.7 L1174.1,479.5 L1185.0,481.4 L1195.8,492.9 L1206.7,481.1 L1217.5,465.2 M610.3,506.7 L621.1,514.8 L632.0,518.5 L642.8,522.5 L653.7,525.9 L664.5,526.8 L675.4,527.9 L686.2,531.0 L697.0,532.4 L707.9,529.8 L718.7,528.1 L729.6,526.4 L740.4,524.7 L751.3,523.0 L762.1,522.4 L772.9,521.5 L783.8,520.1 L794.6,517.4 L805.5,513.6 L816.3,500.2 L827.2,478.3 L838.0,465.2 L848.8,434.2 L859.7,404.3 L870.5,433.7 L881.4,443.9 L892.2,456.4 L903.1,478.8 L913.9,474.9 L924.7,477.6 L935.6,457.2 L946.4,453.4 L957.3,461.5 L968.1,432.6 L979.0,374.8 L989.8,360.0 L1000.6,343.1 L1011.5,325.0 L1022.3,315.9 L1033.2,301.5 L1044.0,300.3 L1054.9,301.5 L1065.7,318.0 L1076.5,300.3 L1087.4,328.8 L1098.2,327.2 L1109.1,379.0 L1119.9,386.3 L1130.8,422.3 L1141.6,453.3 L1152.4,470.4 L1163.3,482.2 L1174.1,492.4 L1185.0,496.8 L1195.8,493.7 L1206.7,511.2 L1217.5,515.9 M610.3,506.7 L621.1,514.8 L632.0,518.5 L642.8,522.5 L653.7,526.0 L664.5,527.0 L675.4,527.9 L686.2,531.0 L697.0,532.5 L707.9,529.3 L718.7,527.7 L729.6,526.2 L740.4,524.3 L751.3,522.8 L762.1,522.2 L772.9,522.4 L783.8,520.9 L794.6,518.4 L805.5,516.2 L816.3,501.9 L827.2,484.9 L838.0,465.6 L848.8,441.9 L859.7,418.6 L870.5,433.7 L881.4,490.3 L892.2,505.5 L903.1,509.7 L913.9,516.3 L924.7,513.0 L935.6,509.5 L946.4,492.4 L957.3,492.2 L968.1,483.5 L979.0,460.6 L989.8,436.0 L1000.6,416.5 L1011.5,389.2 L1022.3,372.2 L1033.2,352.4 L1044.0,360.0 L1054.9,347.5 L1065.7,379.0 L1076.5,402.1 L1087.4,423.0 L1098.2,441.5 L1109.1,460.8 L1119.9,482.3 L1130.8,470.2 L1141.6,480.8 L1152.4,502.3 L1163.3,518.5 L1174.1,519.8 L1185.0,508.6 L1195.8,514.8 L1206.7,520.1 L1217.5,524.2 M610.3,500.6 L621.1,510.7 L632.0,516.0 L642.8,520.4 L653.7,523.8 L664.5,525.4 L675.4,527.0 L686.2,530.4 L697.0,533.2 L707.9,532.3 L718.7,529.8 L729.6,527.8 L740.4,526.4 L751.3,524.7 L762.1,522.0 L772.9,521.6 L783.8,521.5 L794.6,520.7 L805.5,518.4 L816.3,514.5 L827.2,499.9 L838.0,484.2 L848.8,463.6 L859.7,439.4 L870.5,405.8 L881.4,447.5 L892.2,462.1 L903.1,480.8 L913.9,486.7 L924.7,469.4 L935.6,470.7 L946.4,461.8 L957.3,448.0 L968.1,418.7 L979.0,400.5 L989.8,369.6 L1000.6,375.0 L1011.5,328.3 L1022.3,305.8 L1033.2,296.8 L1044.0,274.5 L1054.9,276.9 L1065.7,312.9 L1076.5,334.6 L1087.4,346.6 L1098.2,354.1 L1109.1,373.0 L1119.9,417.9 L1130.8,432.4 L1141.6,434.7 L1152.4,464.7 L1163.3,493.8 L1174.1,499.0 L1185.0,502.9 L1195.8,488.7 L1206.7,486.0 L1217.5,473.7 M610.3,497.3 L621.1,507.7 L632.0,513.3 L642.8,517.0 L653.7,520.5 L664.5,522.5 L675.4,524.5 L686.2,527.5 L697.0,530.8 L707.9,531.7 L718.7,529.8 L729.6,526.9 L740.4,525.3 L751.3,523.4 L762.1,520.9 L772.9,519.1 L783.8,519.4 L794.6,519.9 L805.5,518.3 L816.3,514.1 L827.2,508.5 L838.0,484.2 L848.8,454.0 L859.7,418.8 L870.5,389.3 L881.4,353.7 L892.2,378.6 L903.1,380.0 L913.9,425.1 L924.7,463.9 L935.6,467.6 L946.4,480.1 L957.3,467.6 L968.1,459.1 L979.0,440.4 L989.8,387.5 L1000.6,357.5 L1011.5,346.3 L1022.3,323.1 L1033.2,301.2 L1044.0,299.2 L1054.9,280.9 L1065.7,296.0 L1076.5,314.7 L1087.4,337.9 L1098.2,346.1 L1109.1,344.0 L1119.9,379.7 L1130.8,440.3 L1141.6,463.0 L1152.4,437.6 L1163.3,435.3 L1174.1,443.0 L1185.0,464.8 L1195.8,452.8 L1206.7,465.4 L1217.5,474.2" fill="none" stroke="#a0a0a0" stroke-opacity="0.5" stroke-width="0.6" stroke-linejoin="round"/></g><line x1="697.0" y1="133.75" x2="697.0" y2="535.0" stroke="#333" stroke-width="0.85" stroke-dasharray="3.1 4.46"/><line x1="783.8" y1="133.75" x2="783.8" y2="535.0" stroke="#333" stroke-width="0.85" stroke-dasharray="3.1 4.46"/><line x1="870.5" y1="133.75" x2="870.5" y2="535.0" stroke="#333" stroke-width="0.85" stroke-dasharray="3.1 4.46"/><line x1="957.3" y1="133.75" x2="957.3" y2="535.0" stroke="#333" stroke-width="0.85" stroke-dasharray="3.1 4.46"/><line x1="1044.0" y1="133.75" x2="1044.0" y2="535.0" stroke="#333" stroke-width="0.85" stroke-dasharray="3.1 4.46"/><line x1="1130.8" y1="133.75" x2="1130.8" y2="535.0" stroke="#333" stroke-width="0.85" stroke-dasharray="3.1 4.46"/><line x1="610.3" y1="212.4" x2="1217.5" y2="212.4" stroke="#000" stroke-width="3.2" stroke-dasharray="9.3 2.7" stroke-dashoffset="0.85"/><line x1="610.3" y1="293" x2="1217.5" y2="293" stroke="#000" stroke-width="3.2" stroke-dasharray="9.3 2.7" stroke-dashoffset="0.85"/><line x1="610.3" y1="372.6" x2="1217.5" y2="372.6" stroke="#000" stroke-width="3.2" stroke-dasharray="9.3 2.7" stroke-dashoffset="0.85"/><line x1="610.3" y1="453.6" x2="1217.5" y2="453.6" stroke="#000" stroke-width="3"/><g clip-path="url(#plotclip)" fill="none" stroke-linejoin="miter"><polyline points="610.3,494.0 621.1,507.2 632.0,512.8 642.8,516.5 653.7,520.0 664.5,522.0 675.4,524.0 686.2,527.0 697.0,530.2 707.9,526.5 718.7,522.8 729.6,522.0 740.4,521.6 751.3,518.5 762.1,515.2 772.9,514.7 783.8,515.0 794.6,512.0 805.5,508.3 816.3,499.7 827.2,465.0 838.0,428.0 848.8,347.5 859.7,332.5 870.5,279.7 881.4,266.7 892.2,243.3 903.1,286.7 913.9,310.8 924.7,363.0 935.6,347.2 946.4,355.8 957.3,338.3 968.1,309.0 979.0,279.0 989.8,250.0 1000.6,224.7 1011.5,213.3 1022.3,226.3 1033.2,205.3 1044.0,202.0 1054.9,205.0 1065.7,212.3 1076.5,227.5 1087.4,218.5 1098.2,207.0 1109.1,202.5 1119.9,299.2 1130.8,275.8 1141.6,255.0 1152.4,296.7 1163.3,333.8 1174.1,341.6 1185.0,351.6 1195.8,342.2 1206.7,346.9 1217.5,365.6" stroke="#ff1010" stroke-width="1.5"/><polyline points="610.3,507.2 621.1,515.2 632.0,519.0 642.8,523.0 653.7,526.9 664.5,527.7 675.4,528.4 686.2,531.5 697.0,534.4 707.9,534.4 718.7,531.6 729.6,530.0 740.4,528.3 751.3,526.6 762.1,525.0 772.9,524.3 783.8,524.0 794.6,523.0 805.5,522.0 816.3,520.0 827.2,509.0 838.0,494.0 848.8,478.4 859.7,456.0 870.5,434.2 881.4,490.8 892.2,506.0 903.1,519.0 913.9,527.3 924.7,528.0 935.6,526.5 946.4,524.8 957.3,520.0 968.1,517.5 979.0,515.0 989.8,497.5 1000.6,486.7 1011.5,463.0 1022.3,428.0 1033.2,389.2 1044.0,372.0 1054.9,398.4 1065.7,405.0 1076.5,431.2 1087.4,472.1 1098.2,469.0 1109.1,478.5 1119.9,485.6 1130.8,497.8 1141.6,508.7 1152.4,512.8 1163.3,525.0 1174.1,526.0 1185.0,522.8 1195.8,520.3 1206.7,526.3 1217.5,526.9" stroke="#2020ff" stroke-width="1.5"/><g mask="url(#lmg)"><polyline points="610.3,498.7 621.1,509.0 632.0,514.0 642.8,518.5 653.7,522.5 664.5,523.8 675.4,525.0 686.2,528.3 697.0,531.5 707.9,529.0 718.7,526.2 729.6,524.5 740.4,522.8 751.3,521.0 762.1,519.3 772.9,518.9 783.8,519.0 794.6,518.0 805.5,514.0 816.3,508.5 827.2,483.0 838.0,458.5 848.8,426.0 859.7,394.0 870.5,361.0 881.4,367.5 892.2,398.0 903.1,430.0 913.9,452.0 924.7,448.0 935.6,443.5 946.4,439.2 957.3,424.2 968.1,399.0 979.0,375.0 989.8,352.0 1000.6,325.0 1011.5,304.7 1022.3,302.5 1033.2,311.7 1044.0,298.7 1054.9,296.7 1065.7,309.0 1076.5,323.8 1087.4,321.6 1098.2,331.0 1109.1,343.0 1119.9,382.5 1130.8,404.0 1141.6,412.5 1152.4,435.0 1163.3,452.5 1174.1,459.0 1185.0,464.0 1195.8,468.5 1206.7,474.4 1217.5,475.9" stroke="#00e400" stroke-width="2"/></g><g mask="url(#lmb)"><polyline points="610.3,499.7 621.1,510.0 632.0,515.0 642.8,519.5 653.7,523.5 664.5,524.8 675.4,526.0 686.2,529.3 697.0,532.5 707.9,530.0 718.7,527.2 729.6,525.5 740.4,523.8 751.3,522.0 762.1,520.3 772.9,519.9 783.8,519.8 794.6,519.5 805.5,516.0 816.3,511.0 827.2,491.0 838.0,472.0 848.8,449.0 859.7,405.0 870.5,361.0 881.4,312.0 892.2,292.5 903.1,385.0 913.9,458.3 924.7,440.0 935.6,427.5 946.4,418.0 957.3,407.5 968.1,368.0 979.0,320.0 989.8,310.0 1000.6,294.2 1011.5,296.7 1022.3,296.0 1033.2,307.5 1044.0,271.7 1054.9,241.5 1065.7,238.8 1076.5,262.3 1087.4,294.6 1098.2,322.5 1109.1,364.7 1119.9,381.6 1130.8,392.0 1141.6,406.0 1152.4,432.2 1163.3,465.0 1174.1,485.6 1185.0,492.2 1195.8,495.6 1206.7,490.9 1217.5,494.0" stroke="#000" stroke-width="2"/></g></g><text x="0" y="3.9" font-size="11.2" text-anchor="middle" fill="#111" transform="translate(842.5,463.5) rotate(-62)">C</text><text x="0" y="3.9" font-size="11.2" text-anchor="middle" fill="#111" transform="translate(849,431.5) rotate(-76)">Mean</text><text x="0" y="3.9" font-size="11.2" text-anchor="middle" fill="#111" transform="translate(878,328) rotate(-74)">C</text><text x="0" y="3.9" font-size="11.2" text-anchor="middle" fill="#111" transform="translate(905.5,395) rotate(82)">C</text><text x="0" y="3.9" font-size="11.2" text-anchor="middle" fill="#111" transform="translate(904,436) rotate(72)">Mean</text><text x="0" y="3.9" font-size="11.2" text-anchor="middle" fill="#111" transform="translate(960.5,399) rotate(-76)">C</text><text x="0" y="3.9" font-size="11.2" text-anchor="middle" fill="#111" transform="translate(993,345) rotate(-68)">Mean</text><text x="0" y="3.9" font-size="11.2" text-anchor="middle" fill="#111" transform="translate(1022,297.5) rotate(18)">C</text><text x="0" y="3.9" font-size="11.2" text-anchor="middle" fill="#111" transform="translate(1081,279) rotate(70)">C</text><text x="0" y="3.9" font-size="11.2" text-anchor="middle" fill="#111" transform="translate(1098.5,332) rotate(52)">Mean</text><text x="0" y="3.9" font-size="11.2" text-anchor="middle" fill="#111" transform="translate(1139,402) rotate(42)">C</text><text x="0" y="3.9" font-size="11.2" text-anchor="middle" fill="#111" transform="translate(1178,462) rotate(18)">Mean</text><text x="0" y="3.9" font-size="11.2" text-anchor="middle" fill="#111" transform="translate(743,524.5) rotate(-6)">Mean</text><text x="0" y="3.9" font-size="11.2" text-anchor="middle" fill="#111" transform="translate(731.2,525.8) rotate(-6)">C</text><g id="map"><rect x="611.2" y="133" width="135.89999999999998" height="188.7" fill="#cccccc"/><polygon points="611.2,133 641.4,133 642.5,140 644.6,150 648.7,152.5 650.5,160 651.2,164.5 650.5,175 650.5,200 648.5,207 644.6,213.5 645.2,221 648.5,228.5 649,233 648,241 646.3,246 646.3,251.5 649,256 651,259 655,266 657,271 657.8,275.5 662,280 666.2,284 670,288 674,290.5 676,294 677.9,301.6 681,303 684.4,303.8 685.4,310.4 689,316 692.5,321.7 611.2,321.7" fill="#87ceeb"/><path d="M646,133 L673,133 L672.5,136.2 L667,137.6 L660,137 L653,136.2 L647,134.6 Z" fill="#87ceeb"/><path d="M647,134.8 L653,136.4 L660,137.3 L667,137.9 L672.5,136.6" fill="none" stroke="#0a0a0a" stroke-width="1.4"/><path d="M653,133.6 L658,134.3 L661,133.8" fill="none" stroke="#0a0a0a" stroke-width="0.9"/><path d="M672,133 L679.6,133.6 L680.2,138 L678.2,141.6 L675,141.2 L672.6,138.2 Z" fill="#101010"/><path d="M677,140 L672.5,143.2 L669,145.2 L665.6,148.4" fill="none" stroke="#0a0a0a" stroke-width="2.2" stroke-linecap="round"/><path d="M667.6,152 L672,150.2 L676.6,147.2 M672.5,152.6 L677,150.6 L677.6,145.5 L676.8,141.5" fill="none" stroke="#0a0a0a" stroke-width="2.4" stroke-linecap="round" stroke-linejoin="round"/><path d="M675.6,138.5 L676.3,146.5" fill="none" stroke="#3f8fb5" stroke-width="0.9"/><polyline points="641.4,133 642.5,140 644.6,150 648.7,152.5 650.5,160 651.2,164.5 650.5,175 650.5,200 648.5,207 644.6,213.5 645.2,221 648.5,228.5 649,233 648,241 646.3,246 646.3,251.5 649,256 651,259 655,266 657,271 657.8,275.5 662,280 666.2,284 670,288 674,290.5 676,294 677.9,301.6 681,303 684.4,303.8 685.4,310.4 689,316 692.5,321.7" fill="none" stroke="#111" stroke-width="1.15"/><polyline points="651.5,164.6 660,165.2 666,166.5 669,169 670.5,173 673.5,175.4 678,176 684,175.2 690,174 695.4,174.8 702,173.5 712,171.5 722,169.6 729,168.8 747.1,168.6" fill="none" stroke="#111" stroke-width="1.15"/><path d="M652.4,228.5 L747.1,228.5 M712.4,228.5 L712.4,270 M713.8,272.8 L747.1,298" fill="none" stroke="#111" stroke-width="1.15"/><circle cx="712.4" cy="271.8" r="2.0" fill="#fff" stroke="#111" stroke-width="1.1"/><path d="M674,290.5 L675.5,287.5 L677.5,286.5 L677,289.5 L679,292 L678.5,295 L682,296.5 L684,295.5" fill="none" stroke="#111" stroke-width="1.15"/><path d="M676,287 L678,286.3 L677.6,289 Z" fill="#87ceeb"/><circle cx="644.6" cy="139.3" r="3.55" fill="#000"/><circle cx="644.6" cy="146.6" r="3.55" fill="#000"/><circle cx="652.4" cy="154.2" r="3.55" fill="#000"/><circle cx="652.4" cy="161.4" r="3.55" fill="#000"/><circle cx="652.4" cy="168.7" r="3.55" fill="#000"/><circle cx="652.4" cy="176.3" r="3.55" fill="#000"/><circle cx="652.4" cy="183.9" r="3.55" fill="#000"/><circle cx="652.4" cy="191.5" r="3.55" fill="#000"/><circle cx="652.4" cy="198.9" r="3.55" fill="#000"/><circle cx="652.4" cy="206.2" r="3.55" fill="#000"/><circle cx="644.6" cy="213.5" r="3.55" fill="#000"/><circle cx="644.6" cy="221.3" r="3.55" fill="#000"/><circle cx="652.4" cy="228.5" r="3.55" fill="#000"/><circle cx="652.4" cy="243.3" r="3.55" fill="#000"/><circle cx="652.4" cy="250.9" r="3.55" fill="#000"/><circle cx="652.4" cy="258.3" r="3.55" fill="#000"/><circle cx="660.1" cy="265.6" r="3.55" fill="#000"/><circle cx="660.1" cy="273.2" r="3.55" fill="#000"/><circle cx="667.7" cy="280.5" r="3.55" fill="#000"/><circle cx="667.7" cy="287.8" r="3.55" fill="#000"/><circle cx="675" cy="295.5" r="3.55" fill="#000"/><circle cx="675" cy="303.1" r="3.55" fill="#000"/><circle cx="682.3" cy="310.4" r="3.55" fill="#000"/><circle cx="690" cy="317.7" r="3.55" fill="#000"/><circle cx="652.4" cy="236" r="3.3" fill="#ff0000"/><path d="M641,133 A3.3,3.3 0 0 0 648,133 Z" fill="#000"/></g><path d="M610.3,130.4 L610.3,535.0 M609.5999999999999,535.0 L1217.5,535.0 M597.0,130.4 L1217.5,130.4 M1217.5,535.0 L1217.5,547.5" stroke="#000" stroke-width="1.7" fill="none"/><g stroke="#000" stroke-width="0.3" stroke-linejoin="round"><line x1="597.0" y1="130.4" x2="610.3" y2="130.4" stroke="#000" stroke-width="1.5"/><text x="585.9" y="136.3" font-size="16.7" text-anchor="end">1250</text><line x1="597.0" y1="211.2" x2="610.3" y2="211.2" stroke="#000" stroke-width="1.5"/><text x="585.9" y="217.1" font-size="16.7" text-anchor="end">1000</text><line x1="597.0" y1="291.7" x2="610.3" y2="291.7" stroke="#000" stroke-width="1.5"/><text x="585.9" y="297.6" font-size="16.7" text-anchor="end">750</text><line x1="597.0" y1="372.6" x2="610.3" y2="372.6" stroke="#000" stroke-width="1.5"/><text x="585.9" y="378.5" font-size="16.7" text-anchor="end">500</text><line x1="597.0" y1="453.6" x2="610.3" y2="453.6" stroke="#000" stroke-width="1.5"/><text x="585.9" y="459.5" font-size="16.7" text-anchor="end">250</text><line x1="597.0" y1="535.0" x2="610.3" y2="535.0" stroke="#000" stroke-width="1.5"/><text x="585.9" y="540.9" font-size="16.7" text-anchor="end">0</text><line x1="610.3" y1="535.0" x2="610.3" y2="547.5" stroke="#000" stroke-width="1.5"/><text x="610.0" y="571.9" font-size="16.7" text-anchor="middle">06Z/17</text><line x1="697.0" y1="535.0" x2="697.0" y2="547.5" stroke="#000" stroke-width="1.5"/><text x="696.7" y="571.9" font-size="16.7" text-anchor="middle">06Z/18</text><line x1="783.8" y1="535.0" x2="783.8" y2="547.5" stroke="#000" stroke-width="1.5"/><text x="783.5" y="571.9" font-size="16.7" text-anchor="middle">06Z/19</text><line x1="870.5" y1="535.0" x2="870.5" y2="547.5" stroke="#000" stroke-width="1.5"/><text x="870.2" y="571.9" font-size="16.7" text-anchor="middle">06Z/20</text><line x1="957.3" y1="535.0" x2="957.3" y2="547.5" stroke="#000" stroke-width="1.5"/><text x="957.0" y="571.9" font-size="16.7" text-anchor="middle">06Z/21</text><line x1="1044.0" y1="535.0" x2="1044.0" y2="547.5" stroke="#000" stroke-width="1.5"/><text x="1043.7" y="571.9" font-size="16.7" text-anchor="middle">06Z/22</text><line x1="1130.8" y1="535.0" x2="1130.8" y2="547.5" stroke="#000" stroke-width="1.5"/><text x="1130.5" y="571.9" font-size="16.7" text-anchor="middle">06Z/23</text><line x1="1217.5" y1="535.0" x2="1217.5" y2="547.5" stroke="#000" stroke-width="1.5"/><text x="1217.2" y="571.9" font-size="16.7" text-anchor="middle">06Z/24</text><text x="913.4" y="596.4" font-size="16.75" text-anchor="middle">Forecast time from 06Z Fri 11/17/17</text><text x="609.0" y="119.9" font-size="16.8">GFS Ensemble Init: 06Z Fri 11/17/17</text><text x="1217" y="119.9" font-size="16.7" text-anchor="end">LatLon: 41.5N;124W</text><text transform="translate(532.8,334.1) rotate(-90)" font-size="22.3" text-anchor="middle">IVT Magnitude [kg/m/s]</text></g><rect x="1218.6" y="131.1" width="28.6" height="403.4" fill="#fff" stroke="none"/><path d="M1218.6,130.2 L1218.6,535.6" stroke="#000" stroke-width="3.6" fill="none"/><path d="M1247.2,130.2 L1247.2,535.6 M1216.8,131.1 L1248.1,131.1 M1216.8,534.5 L1248.1,534.5" stroke="#000" stroke-width="2" fill="none"/><path d="M1216.8,212 L1248.1,212 M1216.8,373.1 L1248.1,373.1" stroke="#000" stroke-width="3.6" fill="none"/><path d="M1218,292 L1248,292" stroke="#000" stroke-width="1.5" fill="none"/><path d="M1218,453.6 L1248,453.6" stroke="#000" stroke-width="2.8" fill="none"/><text transform="translate(1227.5,172.2) rotate(90)" font-size="15.4" font-weight="700" text-anchor="middle" textLength="54.4" lengthAdjust="spacingAndGlyphs">Extreme</text><text transform="translate(1226.9,251.9) rotate(90)" font-size="17.4" font-weight="700" text-anchor="middle" textLength="51.25" lengthAdjust="spacingAndGlyphs">Strong</text><text transform="translate(1226.4,333.3) rotate(90)" font-size="17.8" font-weight="700" text-anchor="middle" textLength="39.6" lengthAdjust="spacingAndGlyphs">Mod.</text><text transform="translate(1226.9,413.2) rotate(90)" font-size="17.8" font-weight="700" text-anchor="middle" textLength="43.5" lengthAdjust="spacingAndGlyphs">Weak</text><text transform="translate(1226.9,494.0) rotate(90)" font-size="17.4" font-weight="700" text-anchor="middle" textLength="53.1" lengthAdjust="spacingAndGlyphs">Not AR</text><g transform="translate(974.1,56.5) scale(1.0)"><clipPath id="ringa"><path clip-rule="evenodd" d="M-50.3,0 A50.3,50.3 0 1 0 50.3,0 A50.3,50.3 0 1 0 -50.3,0 Z M-30.8,0.3 A30.8,30.8 0 1 1 30.8,0.3 A30.8,30.8 0 1 1 -30.8,0.3 Z"/></clipPath><g clip-path="url(#ringa)"><rect x="-51" y="-51" width="102" height="49.1" fill="#f7941e"/><rect x="-51" y="1.4" width="102" height="50" fill="#1d6f99"/><rect x="-51" y="5.6" width="102" height="3.3" fill="#2f8dba"/><rect x="-51" y="13.1" width="102" height="3.3" fill="#2f8dba"/><rect x="-51" y="20.5" width="102" height="3.3" fill="#2f8dba"/><rect x="-51" y="27.9" width="102" height="3.3" fill="#2f8dba"/><rect x="-51" y="35.4" width="102" height="3.3" fill="#2f8dba"/><rect x="-51" y="42.9" width="102" height="3.3" fill="#2f8dba"/></g><path d="M0,-24.8 C1,-20 2.5,-17.5 4.6,-14.8 C8,-10.5 15.4,-3 15.4,6.5 C15.4,15.5 8.8,21.9 0,21.9 C-8.8,21.9 -15.4,15.5 -15.4,6.5 C-15.4,-3 -8,-10.5 -4.4,-14.8 C-2.5,-17.5 -1,-20 0,-24.8 Z" fill="#2b8fc0"/><path d="M6.6,-15.2 L-10.4,4.75 L-0.4,8.5 L-6,22.8 L-2.8,23.4 L10.5,7 L0.5,1.8 L7.6,-12.3 Z" fill="#fff"/><text x="62.7" y="-20" font-size="16.4" font-weight="400" fill="#1d6688" stroke="#1d6688" stroke-width="0.55" textLength="229.9" lengthAdjust="spacingAndGlyphs">Center for Western Weather</text><text x="62.7" y="-1.5" font-size="16.4" font-weight="400" fill="#1d6688" stroke="#1d6688" stroke-width="0.55" textLength="167" lengthAdjust="spacingAndGlyphs">and Water Extremes</text><text x="63.7" y="18.5" font-size="9.5" font-weight="400" fill="#3b93ba" stroke="#3b93ba" stroke-width="0.35" textLength="216.4" lengthAdjust="spacingAndGlyphs">SCRIPPS INSTITUTION OF OCEANOGRAPHY</text><text x="63.7" y="30.8" font-size="9.5" font-weight="400" fill="#3b93ba" stroke="#3b93ba" stroke-width="0.35" textLength="88.2" lengthAdjust="spacingAndGlyphs">AT UC SAN DIEGO</text></g><rect x="1056" y="144" width="140" height="48" fill="#fff"/><g transform="translate(1078,165.9) scale(0.3956)"><clipPath id="ringb"><path clip-rule="evenodd" d="M-50.3,0 A50.3,50.3 0 1 0 50.3,0 A50.3,50.3 0 1 0 -50.3,0 Z M-30.8,0.3 A30.8,30.8 0 1 1 30.8,0.3 A30.8,30.8 0 1 1 -30.8,0.3 Z"/></clipPath><g clip-path="url(#ringb)"><rect x="-51" y="-51" width="102" height="49.1" fill="#f7941e"/><rect x="-51" y="1.4" width="102" height="50" fill="#1d6f99"/><rect x="-51" y="5.6" width="102" height="3.3" fill="#2f8dba"/><rect x="-51" y="13.1" width="102" height="3.3" fill="#2f8dba"/><rect x="-51" y="20.5" width="102" height="3.3" fill="#2f8dba"/><rect x="-51" y="27.9" width="102" height="3.3" fill="#2f8dba"/><rect x="-51" y="35.4" width="102" height="3.3" fill="#2f8dba"/><rect x="-51" y="42.9" width="102" height="3.3" fill="#2f8dba"/></g><path d="M0,-24.8 C1,-20 2.5,-17.5 4.6,-14.8 C8,-10.5 15.4,-3 15.4,6.5 C15.4,15.5 8.8,21.9 0,21.9 C-8.8,21.9 -15.4,15.5 -15.4,6.5 C-15.4,-3 -8,-10.5 -4.4,-14.8 C-2.5,-17.5 -1,-20 0,-24.8 Z" fill="#2b8fc0"/><path d="M6.6,-15.2 L-10.4,4.75 L-0.4,8.5 L-6,22.8 L-2.8,23.4 L10.5,7 L0.5,1.8 L7.6,-12.3 Z" fill="#fff"/><text x="62.7" y="-20" font-size="16.4" font-weight="400" fill="#1d6688" stroke="#1d6688" stroke-width="0.55" textLength="229.9" lengthAdjust="spacingAndGlyphs">Center for Western Weather</text><text x="62.7" y="-1.5" font-size="16.4" font-weight="400" fill="#1d6688" stroke="#1d6688" stroke-width="0.55" textLength="167" lengthAdjust="spacingAndGlyphs">and Water Extremes</text><text x="63.7" y="18.5" font-size="9.5" font-weight="400" fill="#3b93ba" stroke="#3b93ba" stroke-width="0.35" textLength="216.4" lengthAdjust="spacingAndGlyphs">SCRIPPS INSTITUTION OF OCEANOGRAPHY</text><text x="63.7" y="30.8" font-size="9.5" font-weight="400" fill="#3b93ba" stroke="#3b93ba" stroke-width="0.35" textLength="88.2" lengthAdjust="spacingAndGlyphs">AT UC SAN DIEGO</text></g><g id="anno" stroke="#000" fill="none"><line x1="505.8" y1="323.6" x2="786" y2="340.6" stroke-width="3"/><polygon points="798.7,341.2 783.7,334 783.7,348.2" fill="#000" stroke="none"/><line x1="503.8" y1="477.1" x2="875" y2="510.9" stroke-width="3"/><polygon points="886.2,511.3 872.9,503.7 871.9,517.6" fill="#000" stroke="none"/><path d="M864.9,239.1 C858,239.2 851,239.8 847.3,240.7 C844,241.5 842.5,243.4 842.5,247 L842.5,336 C842.5,340 840,342.4 834,342.4 L804.2,342.4 M834,342.4 C840,342.4 842.5,344.5 842.5,349 L842.5,439 C842.5,444 845,446.3 851,446.3 L865,446.3" stroke-width="3.9" stroke-linecap="butt" stroke-linejoin="round"/><path d="M820,474.4 L820,486.5 C820,491 822,492.8 826.5,492.8 L950.3,492.8 C953,492.8 953.8,492 953.8,489.3 L953.8,474.4" stroke-width="3.8" stroke-linecap="butt" stroke-linejoin="round"/><path d="M886.9,492 L886.9,527.6" stroke-width="4" stroke-linecap="butt"/><path d="M879.5,494.5 C883.5,494.7 885,496.5 885,501 L888.8,501 C888.8,496.5 890.3,494.7 894.3,494.5 Z M885.4,490.8 L886.9,492.3 L888.4,490.8 Z" fill="#000" stroke="none"/></g></svg>
</body></html>
